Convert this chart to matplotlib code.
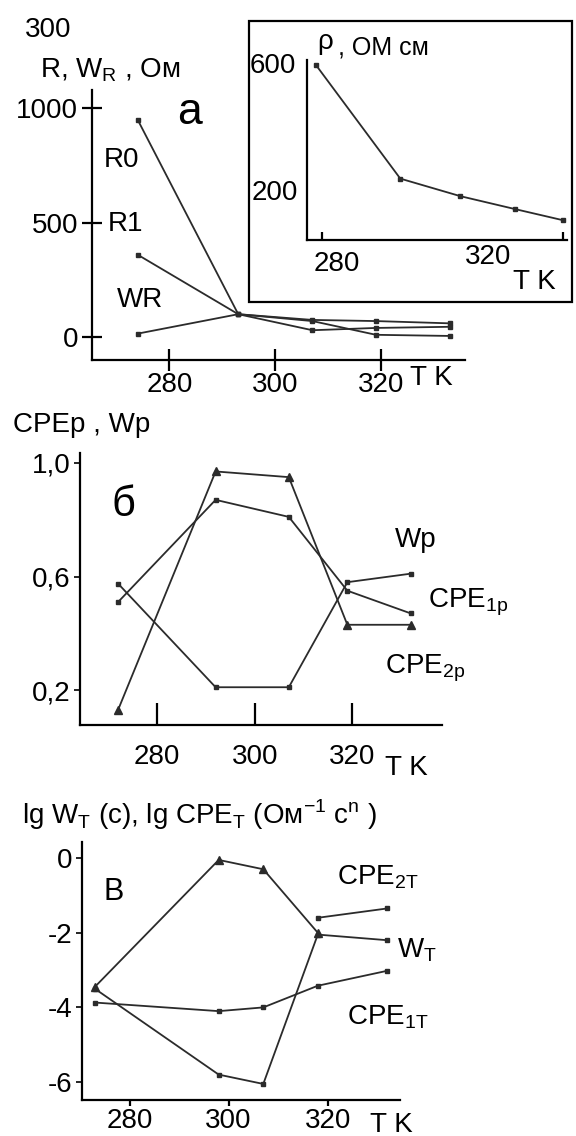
import numpy as np
import matplotlib.pyplot as plt
from matplotlib.patches import Rectangle

plt.rcParams['font.family'] = ['Liberation Sans', 'DejaVu Sans']
plt.rcParams['font.size'] = 20
plt.rcParams['axes.unicode_minus'] = False

W, H = 576, 1136

# panel a: R0, R1, WR vs T
t_a = [274, 293, 307, 319, 333]
r0 = [950, 100, 75, 70, 60]
r1 = [360, 100, 30, 40, 45]
wr = [15, 100, 70, 10, 5]

# inset: resistivity
t_rho = [279, 293, 303, 312, 320]
rho = [600, 245, 190, 150, 115]

# panel b: CPE exponents and Wp
t_b = [272, 292, 307, 319, 332]
wp = [0.575, 0.21, 0.21, 0.58, 0.61]
cpe1p = [0.51, 0.87, 0.81, 0.55, 0.47]
cpe2p = [0.13, 0.97, 0.95, 0.43, 0.43]

# panel c: lg W_T, lg CPE_T
t_c = [273, 298, 307, 318, 332]
w_t = [-3.5, -5.8, -6.05, -2.05, -2.2]
cpe1t = [-3.87, -4.1, -4.0, -3.42, -3.02]
cpe2t = [-3.45, -0.05, -0.3, -2.0]
t_c2 = [318, 332]
cpe2t_end = [-1.6, -1.35]


def box(l, t, r, b):
    return [l / W, 1 - b / H, (r - l) / W, (b - t) / H]


def ftext(x, y, s, **kw):
    kw.setdefault('va', 'center')
    kw.setdefault('ha', 'left')
    fig.text(x / W, 1 - y / H, s, **kw)


def style(ax):
    for s in ['top', 'right']:
        ax.spines[s].set_visible(False)
    for s in ['left', 'bottom']:
        ax.spines[s].set_linewidth(1.6)
    ax.patch.set_alpha(0)


line = dict(color='#2b2b2b', lw=1.3)

fig = plt.figure(figsize=(W / 100, H / 100), dpi=100)

# ---------- panel a
ax = fig.add_axes(box(92, 90, 465, 360))
style(ax)
ax.plot(t_a, r0, marker='s', ms=3.5, **line)
ax.plot(t_a, r1, marker='s', ms=3.5, **line)
ax.plot(t_a, wr, marker='s', ms=3.5, **line)
ax.set_xlim(265.4, 335.8)
ax.set_ylim(-100, 1079)
ax.set_xticks([280, 300, 320])
ax.set_yticks([0, 500, 1000])
ax.tick_params(axis='x', direction='inout', length=16, width=1.6, pad=1)
ax.tick_params(axis='y', direction='inout', length=14, width=1.6, pad=3)
ftext(25, 30, '300')
ftext(40, 70, 'R, W$_\\mathregular{R}$ , Ом')
ftext(177, 112, 'a', fontsize=32)
ftext(104, 160, 'R0')
ftext(108, 224, 'R1')
ftext(117, 300, 'WR')
ftext(410, 378, 'T K')

# inset box and axes
fig.patches.append(Rectangle((249 / W, 1 - 302 / H), (572 - 249) / W, (302 - 21) / H,
                             transform=fig.transFigure, fill=True, facecolor='white',
                             edgecolor='black', lw=1.6, zorder=2))
ins = fig.add_axes(box(307, 60, 567, 240))
ins.set_zorder(3)
style(ins)
ins.plot(t_rho, rho, marker='s', ms=3, **line)
ins.set_xlim(277.5, 320.7)
ins.set_ylim(53, 616)
ins.set_xticks([280, 320])
ins.set_xticklabels([])
ins.set_yticks([200, 600])
ins.set_yticklabels([])
ins.tick_params(axis='x', direction='in', length=6, width=1.6)
ins.tick_params(axis='y', length=0)
ftext(250, 66, '600', zorder=4)
ftext(252, 193, '200', zorder=4)
ftext(314, 264, '280', zorder=4)
ftext(465, 257, '320', zorder=4)
ftext(513, 282, 'T K', zorder=4)
ftext(317, 42, 'ρ', zorder=4)
ftext(338, 48, ', ОМ см', fontsize=18, zorder=4)

# ---------- panel b
ax = fig.add_axes(box(80, 453, 442, 725))
style(ax)
ax.plot(t_b, wp, marker='s', ms=3.5, **line)
ax.plot(t_b, cpe1p, marker='s', ms=3.5, **line)
ax.plot(t_b, cpe2p, marker='^', ms=6, **line)
ax.set_xlim(264.2, 338.4)
ax.set_ylim(0.077, 1.035)
ax.set_xticks([280, 300, 320])
ax.set_yticks([0.2, 0.6, 1.0])
ax.set_yticklabels(['0,2', '0,6', '1,0'])
ax.tick_params(axis='x', direction='in', length=16, width=1.6, pad=14)
ax.tick_params(axis='y', direction='out', length=4, width=1.2, pad=3)
ftext(13, 425, 'CPEp , Wp')
ftext(112, 505, 'б', fontsize=30)
ftext(395, 540, 'Wp')
ftext(428, 602, 'CPE$_\\mathregular{1p}$')
ftext(385, 668, 'CPE$_\\mathregular{2p}$')
ftext(385, 768, 'T K')

# ---------- panel c
ax = fig.add_axes(box(82, 842, 400, 1100))
style(ax)
ax.plot(t_c, w_t, marker='s', ms=3.5, **line)
ax.plot(t_c, cpe1t, marker='s', ms=3.5, **line)
ax.plot(t_c[:4], cpe2t, marker='^', ms=6, **line)
ax.plot(t_c2, cpe2t_end, marker='s', ms=3.5, **line)
ax.set_xlim(270.4, 334.6)
ax.set_ylim(-6.48, 0.43)
ax.set_xticks([280, 300, 320])
ax.set_yticks([-6, -4, -2, 0])
ax.tick_params(axis='x', direction='out', length=4, width=1.6, pad=2)
ax.tick_params(axis='y', direction='out', length=4, width=1.2, pad=3)
ftext(22, 815, 'lg W$_\\mathregular{T}$ (c), lg CPE$_\\mathregular{T}$ (Ом$^\\mathregular{-1}$ c$^\\mathregular{n}$ )')
ftext(104, 892, 'В', fontsize=22)
ftext(337, 877, 'CPE$_\\mathregular{2T}$')
ftext(397, 950, 'W$_\\mathregular{T}$')
ftext(347, 1017, 'CPE$_\\mathregular{1T}$')
ftext(370, 1125, 'T K')

fig.savefig('out.png', dpi=100)
